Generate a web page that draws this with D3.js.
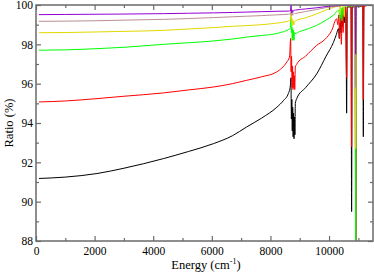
<!DOCTYPE html>
<html><head><meta charset="utf-8">
<script src="https://cdn.jsdelivr.net/npm/d3@7"></script>
</head>
<body style="margin:0;background:#fff"><svg id="c" width="374" height="273" font-family="Liberation Serif"></svg>
<script>
const xMajor=[0,2000,4000,6000,8000,10000];
const xMinor=[1000,3000,5000,7000,9000,11000];
const yMajor=[88,90,92,94,96,98,100];
const yMinor=[89,91,93,95,97,99];
const seriesColors=["#000000","#ff0000","#00ff00","#e2d800","#bc8f8f","#9400d3"];

const blackSeries=[[100,91.18],[1000,91.25],[2080,91.43],[3000,91.7],[4350,92.19],[5200,92.55],[6055,92.95],[6700,93.35],[7190,93.8],[7700,94.25],[8217,94.8],[8450,95.15],[8612,95.5],[8680,95.9],[8700,96.3],[8715,94.2],[8730,95.2],[8745,93.6],[8760,94.8],[8775,93.3],[8790,94.5],[8805,93.2],[8820,94.3],[8835,93.4],[8850,95.0],[8900,95.25],[9200,95.8],[9580,96.5],[9900,97.4],[10150,98.1],[10250,98.5],[10320,98.8],[10350,98.3],[10380,99.1],[10410,98.6],[10430,99.4],[10460,98.9],[10490,99.8],[10520,99.1],[10550,99.9],[10580,99.4],[10600,94.5],[10620,99.9],[10750,99.9],[10770,89.5],[10790,99.9],[10890,99.9],[10910,87],[10930,99.9],[11150,99.95],[11170,93.3],[11190,99.95],[11500,100]];
const redSeries=[[100,95.07],[1000,95.12],[2080,95.24],[3000,95.36],[4350,95.53],[5200,95.68],[6055,95.83],[6700,96.0],[7190,96.17],[7700,96.35],[8217,96.6],[8557,97.1],[8650,97.35],[8690,98.3],[8705,96.6],[8720,97.4],[8740,95.8],[8755,96.9],[8770,95.7],[8785,96.6],[8800,95.8],[8815,96.4],[8830,95.7],[8850,96.85],[8900,97.0],[9200,97.4],[9580,97.95],[9860,98.25],[10090,98.7],[10260,99.3],[10300,99.0],[10330,99.5],[10360,98.3],[10390,99.6],[10420,98.0],[10450,99.7],[10480,98.6],[10510,99.8],[10550,99.9],[10600,96.3],[10620,99.9],[10750,99.95],[10770,92.8],[10790,99.95],[10890,99.95],[10910,87.5],[10930,99.95],[11150,99.95],[11170,95.2],[11190,99.95],[11500,100]];
const greenSeries=[[100,97.70],[1000,97.72],[2080,97.78],[3000,97.85],[4350,98.0],[5200,98.08],[6055,98.17],[6700,98.27],[7190,98.37],[7700,98.45],[8217,98.55],[8450,98.65],[8612,98.75],[8680,98.85],[8700,99.4],[8715,98.6],[8730,98.9],[8745,98.2],[8760,98.8],[8775,98.25],[8790,98.7],[8805,98.2],[8820,98.6],[8840,98.55],[9000,98.65],[9300,98.8],[9580,98.97],[9860,99.2],[10150,99.48],[10330,99.73],[10380,99.3],[10410,99.85],[10440,99.2],[10470,99.9],[10500,99.5],[10530,99.95],[10890,99.95],[10910,86],[10930,99.95],[11500,100]];
const yellowSeries=[[100,98.59],[1000,98.6],[2080,98.63],[3000,98.66],[4350,98.71],[5200,98.78],[6055,98.85],[6700,98.92],[7190,98.95],[7700,99.0],[8217,99.08],[8450,99.13],[8612,99.19],[8680,99.25],[8700,99.6],[8720,99.1],[8740,99.3],[8760,98.95],[8780,99.2],[8800,99.0],[8830,99.15],[8850,99.19],[9200,99.35],[9580,99.55],[9900,99.75],[10200,99.9],[10350,99.95],[10380,99.5],[10400,99.97],[10500,99.97],[10520,99.4],[10540,99.98],[10890,99.98],[10910,92.7],[10930,99.98],[11500,100]];
const brownSeries=[[100,99.17],[1000,99.18],[2080,99.2],[3000,99.23],[4350,99.27],[5200,99.31],[6055,99.36],[6700,99.4],[7190,99.43],[7700,99.46],[8217,99.5],[8612,99.53],[8690,99.56],[8700,99.8],[8720,99.45],[8740,99.6],[8760,99.48],[8790,99.55],[8850,99.57],[9200,99.67],[9580,99.77],[9900,99.87],[10200,99.93],[10500,99.97],[10890,99.98],[10910,95.8],[10930,99.98],[11500,100]];
const violetSeries=[[100,99.51],[1000,99.52],[2080,99.53],[3000,99.54],[4350,99.56],[5200,99.58],[6055,99.6],[6700,99.62],[7190,99.64],[7700,99.66],[8217,99.68],[8612,99.69],[8690,99.72],[8700,100.2],[8720,99.6],[8740,99.75],[8760,99.62],[8790,99.72],[8850,99.74],[9200,99.8],[9580,99.86],[9900,99.92],[10200,99.96],[10500,99.98],[10890,99.99],[10910,97.5],[10930,99.99],[11500,100]];
const allSeries=[blackSeries,redSeries,greenSeries,yellowSeries,brownSeries,violetSeries];

const m={l:36,t:5,w:337,h:236};
const FONT="Liberation Serif";
const svg=d3.select("#c");
const g=svg.append("g").attr("transform",`translate(${m.l},${m.t})`);
const x=d3.scaleLinear().domain([0,11500]).range([0,m.w]);
const y=d3.scaleLinear().domain([88,100]).range([m.h,0]);

svg.append("defs").append("clipPath").attr("id","clip").append("rect").attr("width",m.w).attr("height",m.h);
const line=d3.line().x(d=>x(d[0])).y(d=>y(d[1])).curve(d3.curveMonotoneX);
const lg=g.append("g").attr("clip-path","url(#clip)");
allSeries.forEach((s,i)=>{
  lg.append("path").datum(s).attr("d",line).attr("fill","none").attr("stroke",seriesColors[i]).attr("stroke-width",1);
});

const frameColor="#6a6a6a";
function style(sel){sel.attr("font-family",FONT).attr("font-size",11.5);sel.select(".domain").remove();
  sel.selectAll("line").attr("stroke",frameColor).attr("stroke-width",1.2);
  sel.selectAll("text").attr("font-family",FONT).attr("font-size",11.5).attr("fill","#000");}
g.append("g").attr("transform",`translate(0,${m.h})`).call(d3.axisBottom(x).tickValues(xMajor).tickSize(-5).tickPadding(6).tickFormat(d3.format("d"))).call(style);
g.append("g").attr("transform",`translate(0,${m.h})`).call(d3.axisBottom(x).tickValues(xMinor).tickSize(-3).tickFormat("")).call(style);
g.append("g").call(d3.axisTop(x).tickValues(xMajor).tickSize(-5).tickFormat("")).call(style);
g.append("g").call(d3.axisTop(x).tickValues(xMinor).tickSize(-3).tickFormat("")).call(style);
g.append("g").call(d3.axisLeft(y).tickValues(yMajor).tickSize(-5).tickPadding(3).tickFormat(d3.format("d"))).call(style);
g.append("g").call(d3.axisLeft(y).tickValues(yMinor).tickSize(-3).tickFormat("")).call(style);
g.append("g").attr("transform",`translate(${m.w},0)`).call(d3.axisRight(y).tickValues(yMajor).tickSize(-5).tickFormat("")).call(style);
g.append("g").attr("transform",`translate(${m.w},0)`).call(d3.axisRight(y).tickValues(yMinor).tickSize(-3).tickFormat("")).call(style);

g.append("rect").attr("width",m.w).attr("height",m.h).attr("fill","none").attr("stroke",frameColor).attr("stroke-width",1.5);

const xl=svg.append("text").attr("x",m.l+170).attr("y",269).attr("text-anchor","middle").attr("font-size",12.5).attr("font-family",FONT);
xl.append("tspan").text("Energy (cm");
xl.append("tspan").attr("font-size",8).attr("dy",-5).text("-1");
xl.append("tspan").attr("dy",5).text(")");
svg.append("text").attr("transform",`translate(13,${m.t+m.h/2}) rotate(-90)`).attr("text-anchor","middle").attr("font-size",12.5).attr("font-family",FONT).text("Ratio (%)");
</script></body></html>
